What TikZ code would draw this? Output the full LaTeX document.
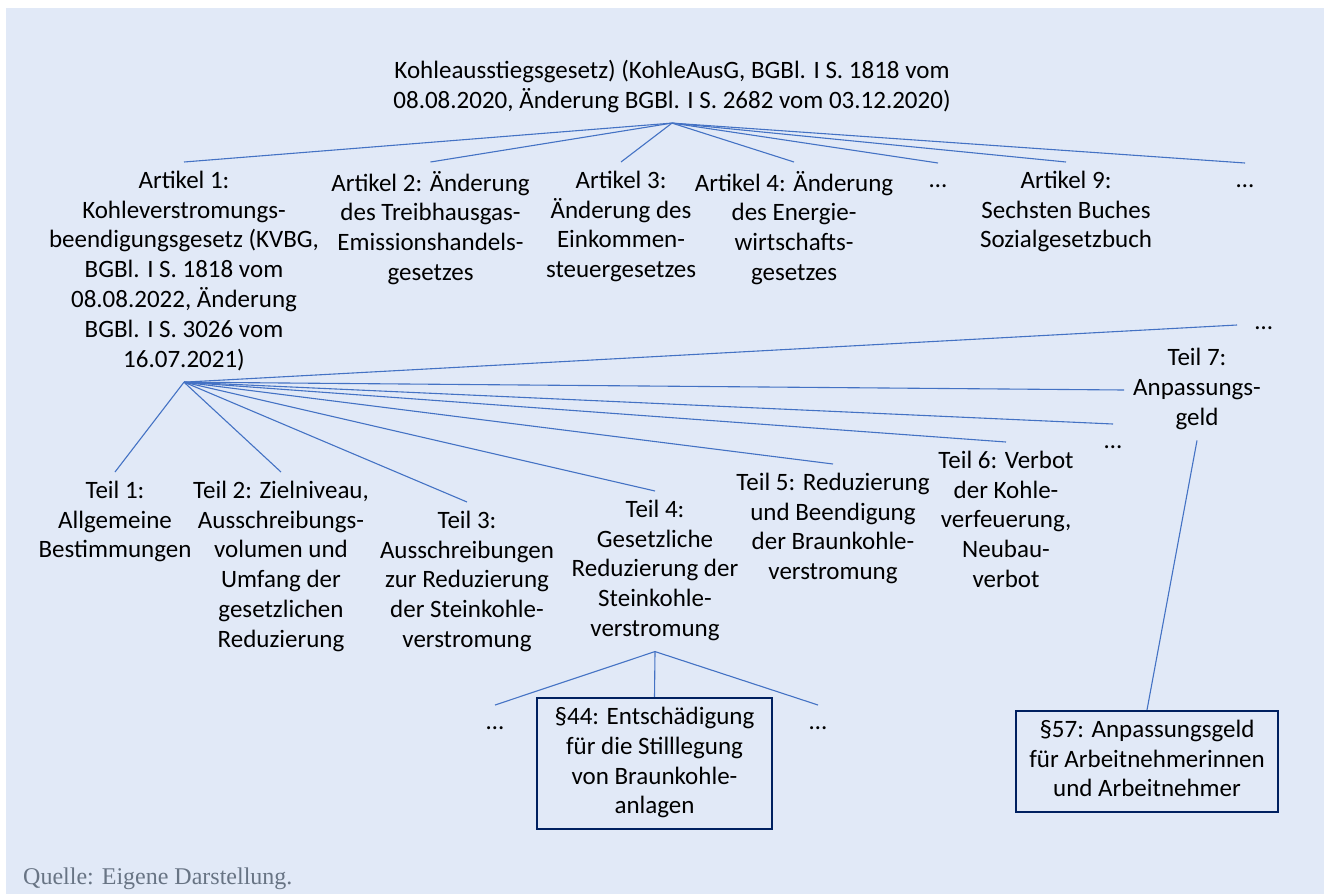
\documentclass[tikz,border=0pt]{standalone}
\usepackage{fontspec}
\setmainfont{Carlito}
\newfontfamily\qfont{Liberation Serif}
\usetikzlibrary{calc}
\definecolor{bgblue}{RGB}{225,233,247}
\definecolor{lineblue}{RGB}{68,114,196}
\definecolor{navy}{RGB}{0,32,96}
\definecolor{qgray}{RGB}{104,116,132}
\newcommand\fs{\fontsize{25}{29.8}\selectfont}
\newcommand\tstrut{\rule[-6pt]{0pt}{21pt}}
\tikzset{
  lbl/.style={align=center, inner sep=0pt, outer sep=9pt, font=\fs, anchor=north,
    execute at begin node=\tstrut, execute at end node=\tstrut},
  con/.style={draw=lineblue, line width=1.1pt},
  para/.style={draw=navy, line width=2.25pt, align=center, inner sep=0pt, font=\fs, anchor=center,
    execute at begin node=\tstrut, execute at end node=\tstrut},
}
\begin{document}
\begin{tikzpicture}[x=1pt,y=-1pt]
\useasboundingbox (0,0) rectangle (1324,894);
\fill[white] (0,0) rectangle (1324,894);
\fill[bgblue] (6,8) rectangle (1324,894);

% root
\node[lbl] (root) at (672,51) {Kohleausstiegsgesetz) (KohleAusG, BGBl. I S. 1818 vom\\08.08.2020, Änderung BGBl. I S. 2682 vom 03.12.2020)};

% Artikel
\node[lbl] (a1) at (184,162) {Artikel 1:\\Kohleverstromungs-\\beendigungsgesetz (KVBG,\\BGBl. I S. 1818 vom\\08.08.2022, Änderung\\BGBl. I S. 3026 vom\\16.07.2021)};
\node[lbl] (a2) at (430.5,162) {Artikel 2: Änderung\\des Treibhausgas-\\Emissionshandels-\\gesetzes};
\node[lbl] (a3) at (621,162) {Artikel 3:\\Änderung des\\Einkommen-\\steuergesetzes};
\node[lbl] (a4) at (794,162) {Artikel 4: Änderung\\des Energie-\\wirtschafts-\\gesetzes};
\node[lbl] (ad1) at (938,163) {…};
\node[lbl] (a9) at (1066,162) {Artikel 9:\\Sechsten Buches\\Sozialgesetzbuch};
\node[lbl] (ad2) at (1245,163) {…};

\foreach \n in {a1,a2,a3,a4,ad1,a9,ad2} \draw[con] (root.south) -- (\n.north);

% Teile
\node[lbl] (t1) at (115,472) {Teil 1:\\Allgemeine\\Bestimmungen};
\node[lbl] (t2) at (281,472) {Teil 2: Zielniveau,\\Ausschreibungs-\\volumen und\\Umfang der\\gesetzlichen\\Reduzierung};
\node[lbl] (t3) at (467,502) {Teil 3:\\Ausschreibungen\\zur Reduzierung\\der Steinkohle-\\verstromung};
\node[lbl] (t4) at (655,491) {Teil 4:\\Gesetzliche\\Reduzierung der\\Steinkohle-\\verstromung};
\node[lbl] (t5) at (833,464) {Teil 5: Reduzierung\\und Beendigung\\der Braunkohle-\\verstromung};
\node[lbl] (t6) at (1006,442) {Teil 6: Verbot\\der Kohle-\\verfeuerung,\\Neubau-\\verbot};
\node[lbl] (td1) at (1113,424) {…};
\node[lbl, anchor=center] (t7) at (1197,390) {Teil 7:\\Anpassungs-\\geld};
\node[lbl, anchor=west, outer sep=18pt] (td2) at (1237,325) {…};

\foreach \n in {t1,t2,t3,t4,t5,t6,td1} \draw[con] (a1.south) -- (\n.north);
\draw[con] (a1.south) -- (t7.west);
\draw[con] (a1.south) -- (td2.west);

% Paragraphen
\node[lbl] (pd1) at (495,705) {…};
\node[para, minimum width=235pt, minimum height=131pt] (p44) at (654.5,763.5) {§44: Entschädigung\\für die Stilllegung\\von Braunkohle-\\anlagen};
\node[lbl] (pd2) at (818,705) {…};
\foreach \n in {pd1,p44,pd2} \draw[con] (t4.south) -- (\n.north);

\node[para, minimum width=262pt, minimum height=101pt] (p57) at (1147,761.5) {§57: Anpassungsgeld\\für Arbeitnehmerinnen\\und Arbeitnehmer};
\draw[con] (t7.south) -- (p57.north);

\node[anchor=base west, inner sep=0pt, font=\qfont\fontsize{24}{28}\selectfont, text=qgray] (src) at (23,884) {Quelle: Eigene Darstellung.};
\end{tikzpicture}
\end{document}
